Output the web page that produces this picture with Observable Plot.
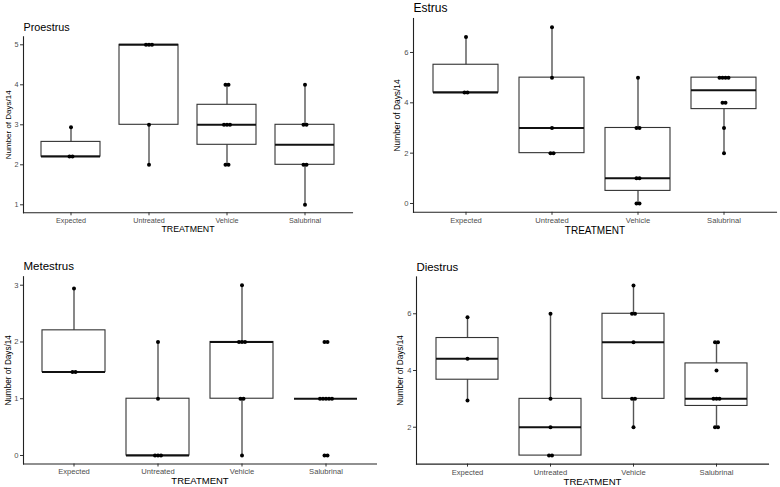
<!DOCTYPE html>
<html><head><meta charset="utf-8">
<script src="https://cdn.jsdelivr.net/npm/d3@7"></script>
<script src="https://cdn.jsdelivr.net/npm/@observablehq/plot@0.6"></script>
<style>
body{margin:0;background:#fff;}
#wrap{position:relative;width:780px;height:487px;background:#fff;}
#wrap > svg{position:absolute;}
</style></head><body><div id="wrap"></div>
<script>
// ---- data ----
const treatments = ["Expected", "Untreated", "Vehicle", "Salubrinal"];

const proestrusValues = [
  [2.205, 2.205, 2.94],
  [2, 3, 5, 5, 5],
  [2, 2, 3, 3, 3, 4, 4],
  [1, 2, 2, 3, 3, 4]
];
const estrusValues = [
  [4.41, 4.41, 6.615],
  [2, 2, 3, 5, 7],
  [0, 0, 1, 1, 3, 3, 5],
  [2, 3, 4, 4, 5, 5, 5, 5]
];
const metestrusValues = [
  [1.47, 1.47, 2.94],
  [0, 0, 0, 1, 2],
  [0, 1, 1, 2, 2, 2, 3],
  [0, 0, 1, 1, 1, 1, 1, 2, 2]
];
const diestrusValues = [
  [2.94, 4.41, 5.88],
  [1, 1, 2, 3, 6],
  [2, 3, 3, 5, 6, 6, 7],
  [2, 2, 3, 3, 3, 4, 5, 5]
];

const proestrusTicks = [1, 2, 3, 4, 5];
const estrusTicks = [0, 2, 4, 6];
const metestrusTicks = [0, 1, 2, 3];
const diestrusTicks = [2, 4, 6];

const stageTitles = ["Proestrus", "Estrus", "Metestrus", "Diestrus"];
const xTitle = "TREATMENT";
const yTitle = "Number of Days/14";

// ---- layout ----
const FONT = "'Liberation Sans', Arial, Helvetica, sans-serif";
const panels = [
  {title: stageTitles[0], values: proestrusValues, ticks: proestrusTicks,
   left: 0, top: 0, width: 390, height: 243, mL: 23, mR: 38, mT: 36.3, mB: 30.7,
   titleDy: -9.3, xtDy: 16, tickFs: 7.2, xtFs: 8.8, titleFs: 10.8, ytFs: 8, ytDx: -15},
  {title: stageTitles[1], values: estrusValues, ticks: estrusTicks,
   left: 390, top: 0, width: 390, height: 243, mL: 23, mR: 4, mT: 18, mB: 31.2,
   titleDy: -10.7, xtDy: 18, tickFs: 7.6, xtFs: 10, titleFs: 12, ytFs: 8.4, ytDx: -16},
  {title: stageTitles[2], values: metestrusValues, ticks: metestrusTicks,
   left: 0, top: 244, width: 390, height: 243, mL: 23, mR: 14, mT: 32.2, mB: 23.5,
   titleDy: -10.2, xtDy: 16.5, tickFs: 7.6, xtFs: 9.5, titleFs: 11.5, ytFs: 8.2, ytDx: -15},
  {title: stageTitles[3], values: diestrusValues, ticks: diestrusTicks,
   left: 390, top: 244, width: 390, height: 243, mL: 26, mR: 12, mT: 32.4, mB: 23.4,
   titleDy: -9.4, xtDy: 17.4, tickFs: 7.6, xtFs: 9.6, titleFs: 11.4, ytFs: 8.2, ytDx: -16}
];

const q1 = v => d3.quantile(v, 0.25);
const q3 = v => d3.quantile(v, 0.75);
const med = v => d3.quantile(v, 0.5);
const whiskLo = v => { const a = q1(v), b = q3(v), f = a - 1.5 * (b - a); return d3.min(v.filter(x => x >= f)); };
const whiskHi = v => { const a = q1(v), b = q3(v), f = b + 1.5 * (b - a); return d3.max(v.filter(x => x <= f)); };

function build(p) {
  const data = p.values.flatMap((vs, i) => vs.map(v => ({t: treatments[i], v})));
  const counts = d3.rollup(data, g => g.length, d => d.t, d => d.v);
  const seen = new Map();
  data.forEach(d => {
    const key = d.t + "|" + d.v;
    const k = seen.get(key) || 0;
    seen.set(key, k + 1);
    const m = counts.get(d.t).get(d.v);
    d.off = (k - (m - 1) / 2) * 3;
  });
  const offs = [...new Set(data.map(d => d.off))];
  const [lo, hi] = d3.extent(data, d => d.v);
  const pad = (hi - lo) * 0.05;

  const dotMarks = offs.map(o => Plot.dot(data.filter(d => d.off === o), {x: "t", y: "v", r: 2, fill: "#000", stroke: null, dx: o}));

  const svg = Plot.plot({
    width: p.width, height: p.height,
    marginLeft: p.mL, marginRight: p.mR, marginTop: p.mT, marginBottom: p.mB,
    style: {fontFamily: FONT, background: "transparent", overflow: "visible", color: "#000"},
    x: {domain: treatments, paddingInner: 0.25, paddingOuter: 0.225, align: 0.5},
    y: {domain: [lo - pad, hi + pad]},
    marks: [
      Plot.axisY({ticks: p.ticks, tickFormat: "d", tickSize: 3, tickPadding: 2, fontSize: p.tickFs, fill: "#4d4d4d", stroke: "#333", label: null}),
      Plot.axisX({tickSize: 3, tickPadding: 2, fontSize: p.tickFs, fill: "#4d4d4d", stroke: "#333", label: null}),
      Plot.frame({anchor: "left", stroke: "#222", strokeWidth: 1.1}),
      Plot.frame({anchor: "bottom", stroke: "#222", strokeWidth: 1.1}),
      Plot.ruleX(data, Plot.groupX({y1: whiskLo, y2: whiskHi}, {x: "t", y: "v", stroke: "#555", strokeWidth: 1.4})),
      Plot.barY(data, Plot.groupX({y1: q1, y2: q3}, {x: "t", y: "v", fill: "#fff", stroke: "#333", strokeWidth: 1.1})),
      Plot.tickY(data, Plot.groupX({y: med}, {x: "t", y: "v", stroke: "#111", strokeWidth: 2})),
      ...dotMarks,
      Plot.text([p.title], {frameAnchor: "top-left", dy: p.titleDy, textAnchor: "start", lineAnchor: "middle", fontSize: p.titleFs, fill: "#000"}),
      Plot.text([xTitle], {frameAnchor: "bottom", dy: p.xtDy, textAnchor: "middle", lineAnchor: "middle", fontSize: p.xtFs, fill: "#000"}),
      Plot.text([yTitle], {frameAnchor: "left", rotate: -90, dx: p.ytDx, textAnchor: "middle", lineAnchor: "middle", fontSize: p.ytFs, fill: "#000"})
    ]
  });
  svg.style.left = p.left + "px";
  svg.style.top = p.top + "px";
  document.getElementById("wrap").appendChild(svg);
}
panels.forEach(build);
</script>
</body></html>
